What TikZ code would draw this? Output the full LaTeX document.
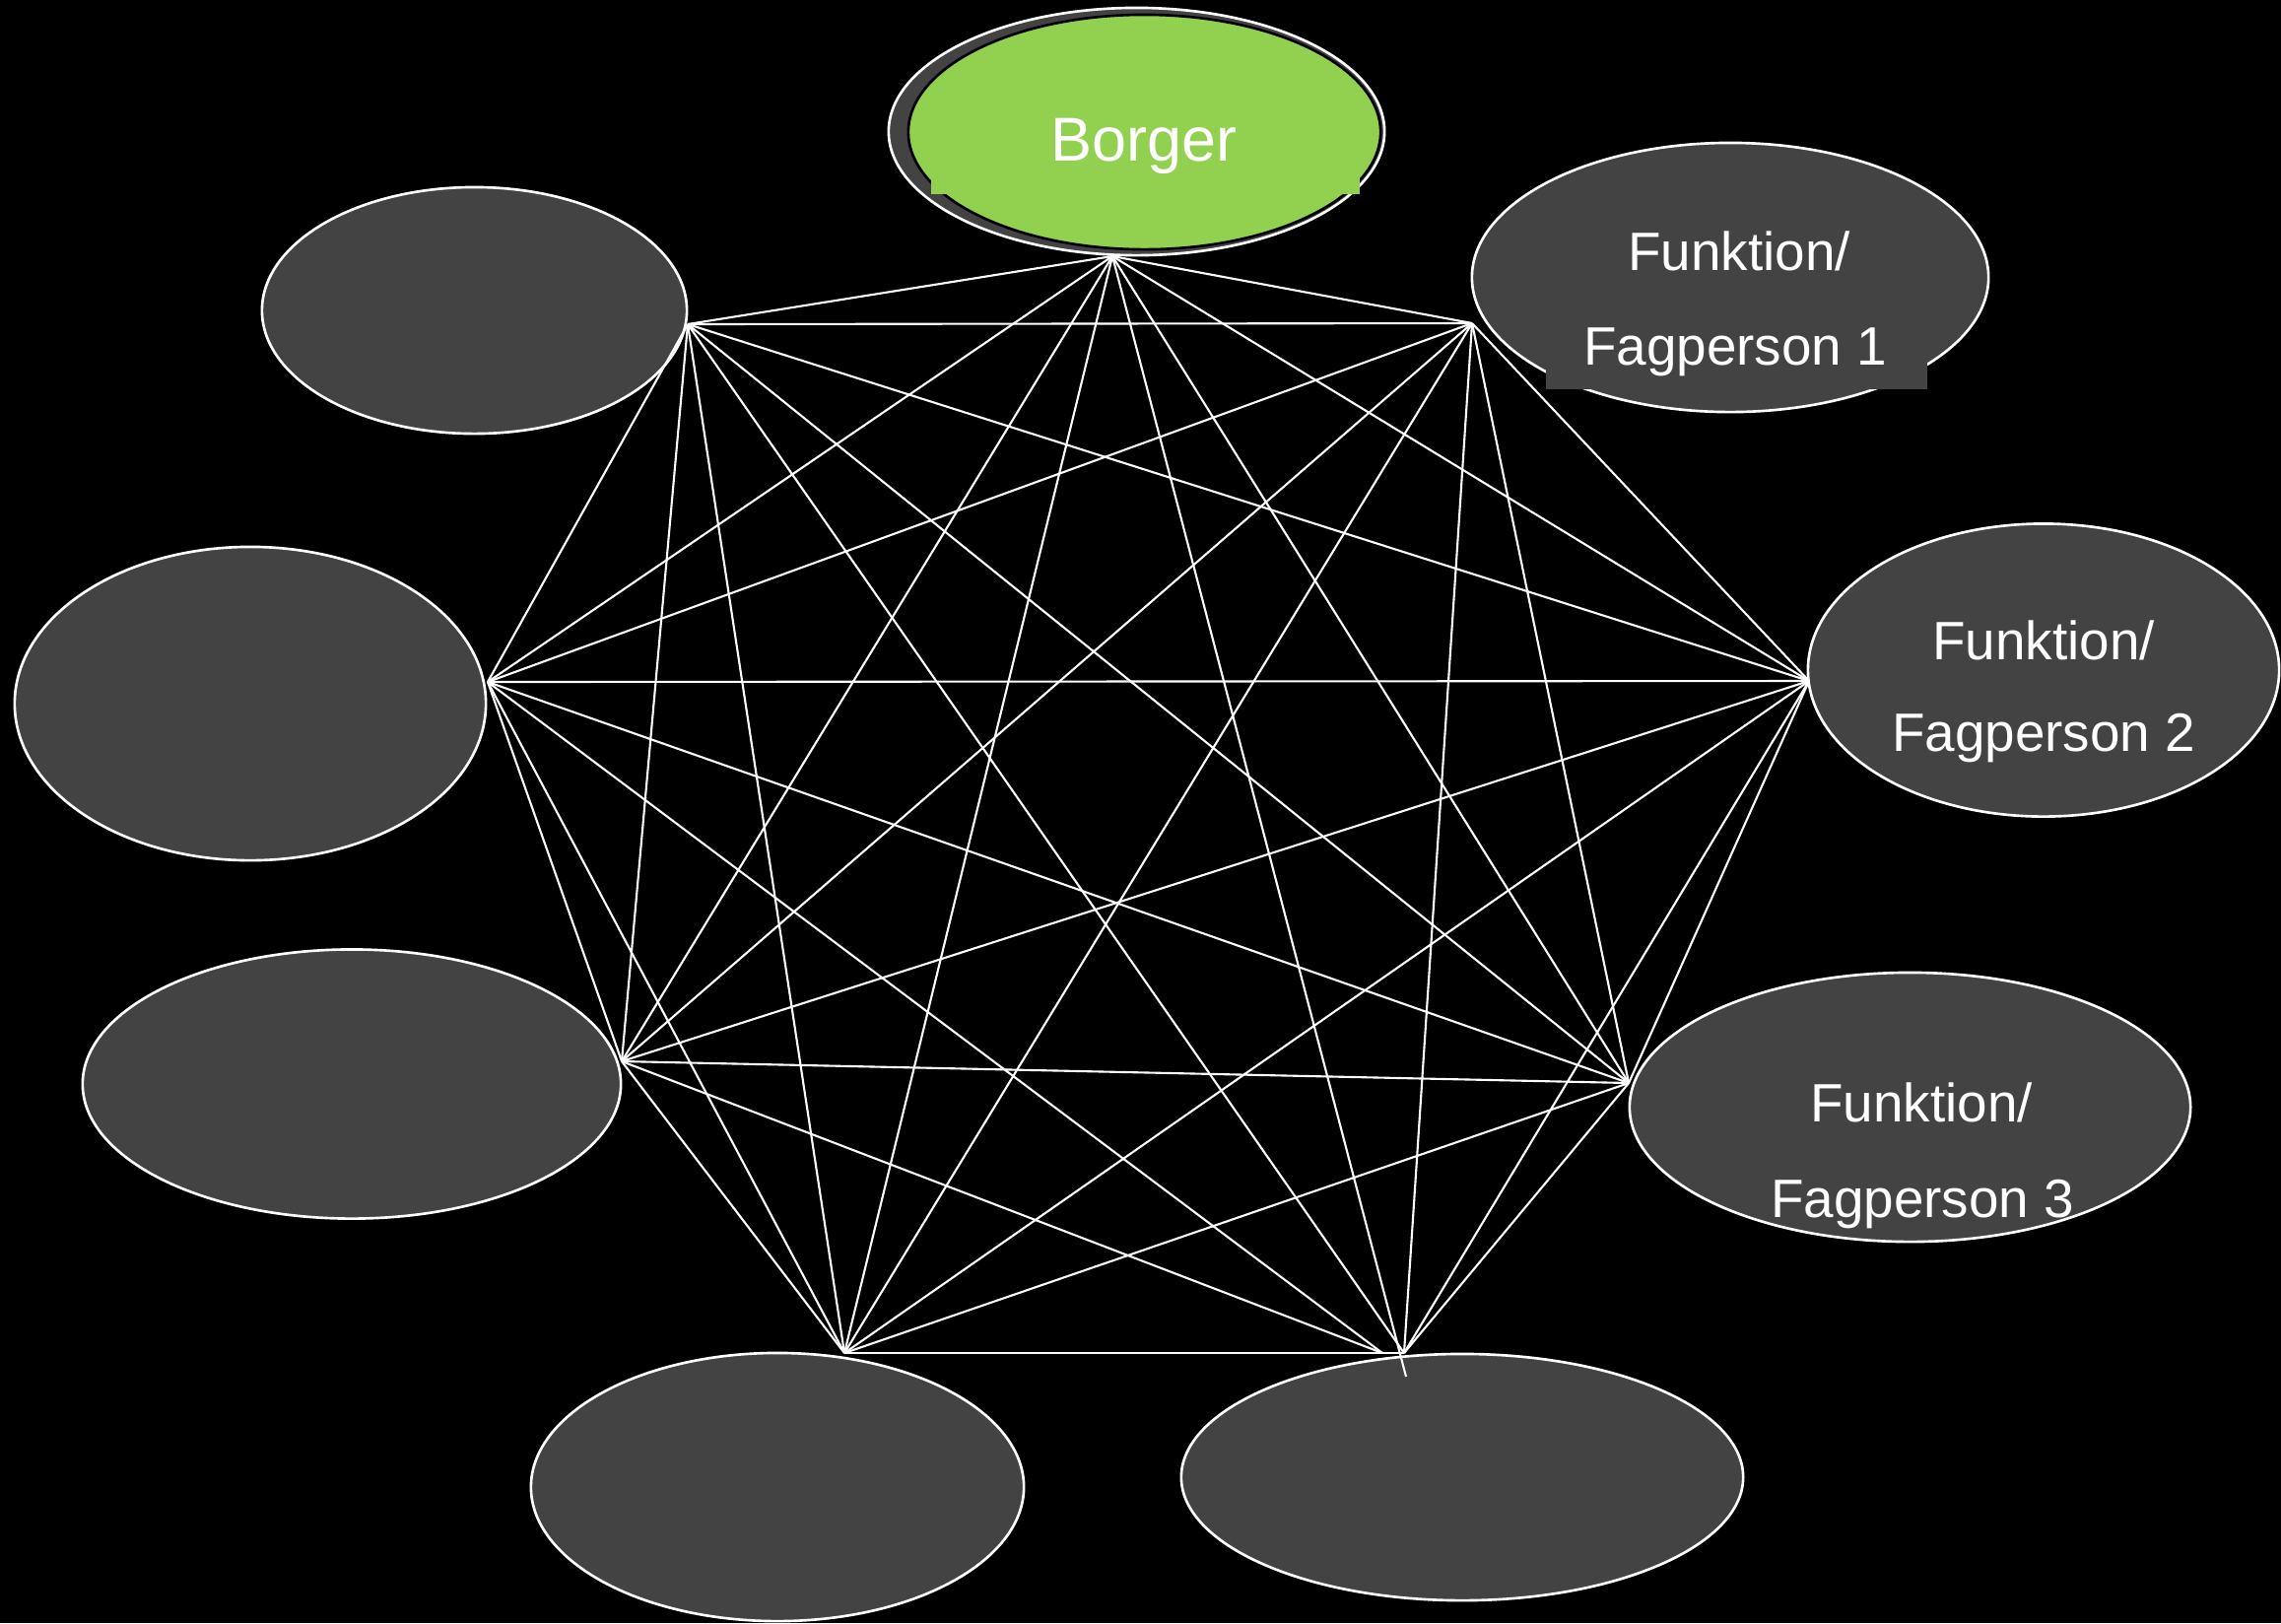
\documentclass[tikz,border=0pt]{standalone}
\usepackage{fontspec}
\setmainfont{Liberation Sans}
\usetikzlibrary{shapes.geometric}
\definecolor{ovgray}{RGB}{67,67,67}
\definecolor{borgergreen}{RGB}{146,208,80}
\begin{document}
\begin{tikzpicture}[x=0.01cm,y=-0.01cm,
  oval/.style={ellipse, draw=white, line width=0.75pt, fill=ovgray, inner sep=0pt},
  link/.style={draw=white, line width=0.6pt},
  lbl/.style={text=white, anchor=base, inner sep=0pt, font=\fontsize{15.6pt}{18pt}\selectfont},
  patch/.style={rectangle, inner sep=0pt, draw=none},
]
\fill[black] (0,0) rectangle (2315,1647);
\useasboundingbox (0,0) rectangle (2315,1647);

% ovals
\node[oval, minimum width=4.31cm, minimum height=2.50cm] (tl) at (481.5,315) {};
\node[oval, minimum width=5.24cm, minimum height=2.73cm] (f1) at (1756,281.5) {};
\node[oval, minimum width=4.78cm, minimum height=3.18cm] (l) at (254,714) {};
\node[oval, minimum width=4.78cm, minimum height=2.97cm] (f2) at (2074,680) {};
\node[oval, minimum width=5.46cm, minimum height=2.73cm] (ll) at (357,1100) {};
\node[oval, minimum width=5.69cm, minimum height=2.73cm] (f3) at (1938.5,1123.5) {};
\node[oval, minimum width=5.00cm, minimum height=2.72cm] (bl) at (789,1509) {};
\node[oval, minimum width=5.70cm, minimum height=2.50cm] (br) at (1484,1499) {};

% Borger
\node[oval, minimum width=5.03cm, minimum height=2.51cm] (bback) at (1153.5,133.5) {};
\node[ellipse, inner sep=0pt, fill=borgergreen, draw=black, line width=0.75pt,
      minimum width=4.79cm, minimum height=2.38cm] (bgreen) at (1161.5,134) {};
\node[patch, fill=borgergreen, minimum width=4.35cm, minimum height=0.97cm] (bpatch) at (1162.5,148.5) {};
\node[patch, fill=ovgray, minimum width=3.87cm, minimum height=1.65cm] (f1patch) at (1762.5,312.5) {};

% vertices
\coordinate (vB) at (1129,260);
\coordinate (vBx) at (1427,1397);
\coordinate (vTL) at (698,329);
\coordinate (vF1) at (1494,328);
\coordinate (vL) at (495,692);
\coordinate (vF2) at (1836,691);
\coordinate (vLL) at (631,1077);
\coordinate (vF3) at (1653,1099);
\coordinate (vBL) at (857,1373);
\coordinate (vBR) at (1425,1373);
\coordinate (vBRa) at (1403,1373);

\foreach \a/\b in {vB/vTL, vB/vF1, vB/vL, vB/vF2, vB/vLL, vB/vF3, vB/vBL, vB/vBx,
  vTL/vF1, vTL/vL, vTL/vF2, vTL/vLL, vTL/vF3, vTL/vBL, vTL/vBR,
  vF1/vL, vF1/vF2, vF1/vLL, vF1/vF3, vF1/vBL, vF1/vBR,
  vL/vF2, vL/vLL, vL/vF3, vL/vBL, vL/vBRa,
  vF2/vLL, vF2/vF3, vF2/vBL, vF2/vBR,
  vLL/vF3, vLL/vBL, vLL/vBRa,
  vF3/vBL, vF3/vBR,
  vBL/vBR}
  \draw[link] (\a) -- (\b);

% labels
\node[lbl, font=\fontsize{17.9pt}{22pt}\selectfont] (tB) at (1161,163) {Borger};
\node[lbl] (t1a) at (1765,274) {Funktion/};
\node[lbl] (t1b) at (1761,370) {Fagperson 1};
\node[lbl] (t2a) at (2074,669) {Funktion/};
\node[lbl] (t2b) at (2074,762) {Fagperson 2};
\node[lbl] (t3a) at (1950,1138) {Funktion/};
\node[lbl] (t3b) at (1951,1235) {Fagperson 3};
\end{tikzpicture}
\end{document}
